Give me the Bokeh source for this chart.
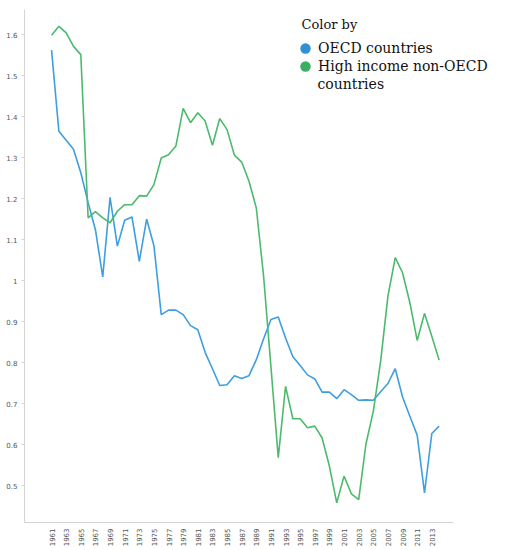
import numpy as np
from bokeh.plotting import figure
from bokeh.models import FixedTicker, Legend, LegendItem, ColumnDataSource, Label
from bokeh.embed import file_html
from bokeh.resources import INLINE

years = list(range(1961, 2015))

oecd = [1.562, 1.364, 1.342, 1.320, 1.263, 1.190, 1.124, 1.009, 1.203, 1.084,
        1.147, 1.155, 1.047, 1.150, 1.085, 0.917, 0.928, 0.928, 0.917, 0.890,
        0.880, 0.825, 0.785, 0.744, 0.746, 0.768, 0.761, 0.768, 0.807, 0.858,
        0.905, 0.911, 0.860, 0.814, 0.793, 0.770, 0.760, 0.728, 0.728, 0.712,
        0.734, 0.722, 0.708, 0.709, 0.708, 0.729, 0.749, 0.785, 0.716, 0.669,
        0.623, 0.482, 0.627, 0.645]

high_income = [1.598, 1.620, 1.604, 1.571, 1.551, 1.153, 1.168, 1.153, 1.141, 1.169,
               1.185, 1.185, 1.207, 1.206, 1.234, 1.299, 1.307, 1.328, 1.420, 1.385,
               1.409, 1.389, 1.330, 1.395, 1.368, 1.306, 1.289, 1.242, 1.177, 1.010,
               0.790, 0.568, 0.742, 0.663, 0.663, 0.641, 0.645, 0.616, 0.547, 0.458,
               0.523, 0.480, 0.466, 0.602, 0.681, 0.803, 0.962, 1.056, 1.019, 0.946,
               0.854, 0.920, 0.864, 0.806]

x_ticks = list(range(1961, 2015, 2))
y_ticks = [0.5, 0.6, 0.7, 0.8, 0.9, 1.0, 1.1, 1.2, 1.3, 1.4, 1.5, 1.6]
y_labels = {0.5: "0.5", 0.6: "0.6", 0.7: "0.7", 0.8: "0.8", 0.9: "0.9", 1.0: "1",
            1.1: "1.1", 1.2: "1.2", 1.3: "1.3", 1.4: "1.4", 1.5: "1.5", 1.6: "1.6"}

blue = "#3d9fe0"
green = "#4cba6c"
serif = "DejaVu Serif"

# frame runs past the end of the x axis so the legend has room
p = figure(frame_width=468, frame_height=513, output_backend="svg",
           toolbar_location=None, x_range=(1957.3, 2021.3), y_range=(0.41, 1.661),
           min_border_left=24, min_border_right=0, min_border_top=9, min_border_bottom=0)
p.outline_line_color = None
p.grid.visible = False

src = ColumnDataSource(dict(year=years, oecd=oecd, hi=high_income))
r1 = p.line("year", "oecd", source=src, color=blue, line_width=1.6)
r2 = p.line("year", "hi", source=src, color=green, line_width=1.6)

# legend swatches only, nothing drawn in the plot
e1 = p.scatter(x=[np.nan], y=[np.nan], fill_color="#2f90d4", line_color=None)
e2 = p.scatter(x=[np.nan], y=[np.nan], fill_color="#3aae63", line_color=None)

for ax in [p.xaxis[0], p.yaxis[0]]:
    ax.axis_line_color = "#d4d4d4"
    ax.major_tick_line_color = "#d4d4d4"
    ax.minor_tick_line_color = None
    ax.major_label_text_font_size = "7px"
    ax.major_label_text_color = "#555555"
    ax.major_label_text_font = "DejaVu Sans"

p.xaxis.ticker = FixedTicker(ticks=x_ticks)
p.xaxis.bounds = (1957.3, 2015.9)
p.xaxis.major_label_orientation = np.pi / 2
p.xaxis.major_tick_out = 0
p.xaxis.major_tick_in = 0
p.xaxis.major_label_standoff = 6

p.yaxis.ticker = FixedTicker(ticks=y_ticks)
p.yaxis.major_label_overrides = y_labels
p.yaxis.major_tick_out = 3
p.yaxis.major_tick_in = 0
p.yaxis.major_label_standoff = 4


def make_legend(label, r, loc):
    lg = Legend(items=[LegendItem(label=label, renderers=[r])], location=loc)
    lg.label_text_font = serif
    lg.label_text_font_size = "14px"
    lg.label_text_color = "#111111"
    lg.label_standoff = 0
    lg.glyph_width = 26
    lg.glyph_height = 28
    lg.padding = 0
    lg.margin = 0
    lg.border_line_color = None
    lg.background_fill_alpha = 0
    return lg


p.add_layout(make_legend("OECD countries", e1, (268, 460)))
p.add_layout(make_legend("High income non-OECD", e2, (268, 442)))

p.add_layout(Label(x=277, y=491, x_units="screen", y_units="screen", text="Color by",
                   text_font=serif, text_font_size="13px", text_color="#111111"))
p.add_layout(Label(x=293, y=431, x_units="screen", y_units="screen", text="countries",
                   text_font=serif, text_font_size="14px", text_color="#111111"))

open("out.html", "w").write(file_html(p, INLINE))
